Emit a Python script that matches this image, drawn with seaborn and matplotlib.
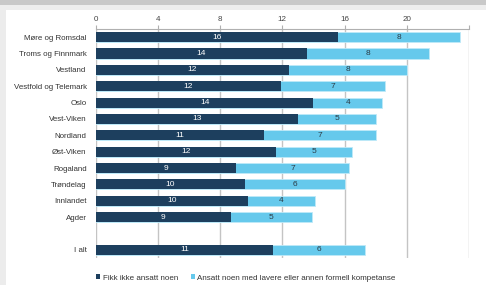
import matplotlib
matplotlib.use("Agg")
import matplotlib.pyplot as plt
from matplotlib.patches import Patch, Rectangle
import seaborn as sns
import pandas as pd

regions = ["Møre og Romsdal", "Troms og Finnmark", "Vestland", "Vestfold og Telemark",
           "Oslo", "Vest-Viken", "Nordland", "Øst-Viken", "Rogaland", "Trøndelag",
           "Innlandet", "Agder", "I alt"]
not_hired = [15.6, 13.6, 12.4, 11.9, 14.0, 13.0, 10.8, 11.6, 9.0, 9.6, 9.8, 8.7, 11.4]
lower_comp = [7.8, 7.8, 7.6, 6.7, 4.4, 5.0, 7.2, 4.9, 7.3, 6.4, 4.3, 5.2, 5.9]
series_names = ["Fikk ikke ansatt noen",
                "Ansatt noen med lavere eller annen formell kompetanse"]
x_ticks = [0, 4, 8, 12, 16, 20, 24]
x_ticklabels = ["0", "4", "8", "12", "16", "20", ""]

dark = "#1d3f5e"
light = "#66c9ec"

order = regions[:-1] + [" "] + regions[-1:]
df = pd.DataFrame({"region": regions, "dark": not_hired, "light": lower_comp})
df["total"] = df["dark"] + df["light"]

sns.set_style("white")
plt.rcParams["font.family"] = ["Liberation Sans", "DejaVu Sans"]

fig = plt.figure(figsize=(4.86, 2.85), dpi=100)
fig.patch.set_facecolor("white")
# screenshot frame shading
fig.patches.append(Rectangle((0, 0), 6 / 486, 1, transform=fig.transFigure,
                             facecolor="#ececec", edgecolor="none", zorder=0))
fig.patches.append(Rectangle((0, 1 - 10 / 285), 1, 10 / 285, transform=fig.transFigure,
                             facecolor="#eeeeee", edgecolor="none", zorder=0))
fig.patches.append(Rectangle((0, 1 - 5 / 285), 1, 5 / 285, transform=fig.transFigure,
                             facecolor="#c9c9c9", edgecolor="none", zorder=0))

ax = fig.add_axes([95.7 / 486, 1 - 258 / 285, (469 - 95.7) / 486, (258 - 29) / 285])
ax.set_facecolor("none")

sns.barplot(data=df, y="region", x="total", order=order, color=light, orient="h",
            width=0.62, ax=ax, saturation=1, edgecolor="#bfe9f8", linewidth=0.6, zorder=3)
sns.barplot(data=df, y="region", x="dark", order=order, color=dark, orient="h",
            width=0.62, ax=ax, saturation=1, linewidth=0, zorder=4)

pos = {r: order.index(r) for r in regions}
for _, row in df.iterrows():
    y = pos[row["region"]]
    ax.text(row["dark"] / 2, y, f"{row['dark']:.0f}", ha="center", va="center",
            color="white", fontsize=6, zorder=5)
    ax.text(row["dark"] + row["light"] / 2, y, f"{row['light']:.0f}", ha="center",
            va="center", color="#2b3a44", fontsize=6, zorder=5)

ax.set_xlim(0, 24)
ax.set_ylim(len(order) - 0.5, -0.5)
ax.set_xticks(x_ticks)
ax.set_xticklabels(x_ticklabels)
ax.xaxis.tick_top()
ax.tick_params(axis="x", top=True, bottom=False, length=3, width=0.8, color="#b0b0b0",
               labelsize=5.8, labelcolor="#444444", pad=1)
ax.tick_params(axis="y", left=False, labelsize=5.7, labelcolor="#333333", pad=3)
ax.grid(axis="x", color="#c4c4c4", linewidth=1, zorder=0)
ax.set_axisbelow(True)
ax.set_xlabel("")
ax.set_ylabel("")
for s in ["left", "right", "bottom"]:
    ax.spines[s].set_visible(False)
ax.spines["top"].set_color("#b0b0b0")
ax.spines["top"].set_linewidth(0.8)

handles = [Patch(facecolor=dark, edgecolor="none"), Patch(facecolor=light, edgecolor="none")]
fig.legend(handles, series_names, loc="center left", bbox_to_anchor=(89 / 486, 1 - 278 / 285),
           ncol=2, frameon=False, fontsize=5.8, handlelength=0.5, handleheight=0.5,
           handletextpad=0.3, columnspacing=1.6, labelcolor="#333333")

fig.savefig("out.png", dpi=100)
